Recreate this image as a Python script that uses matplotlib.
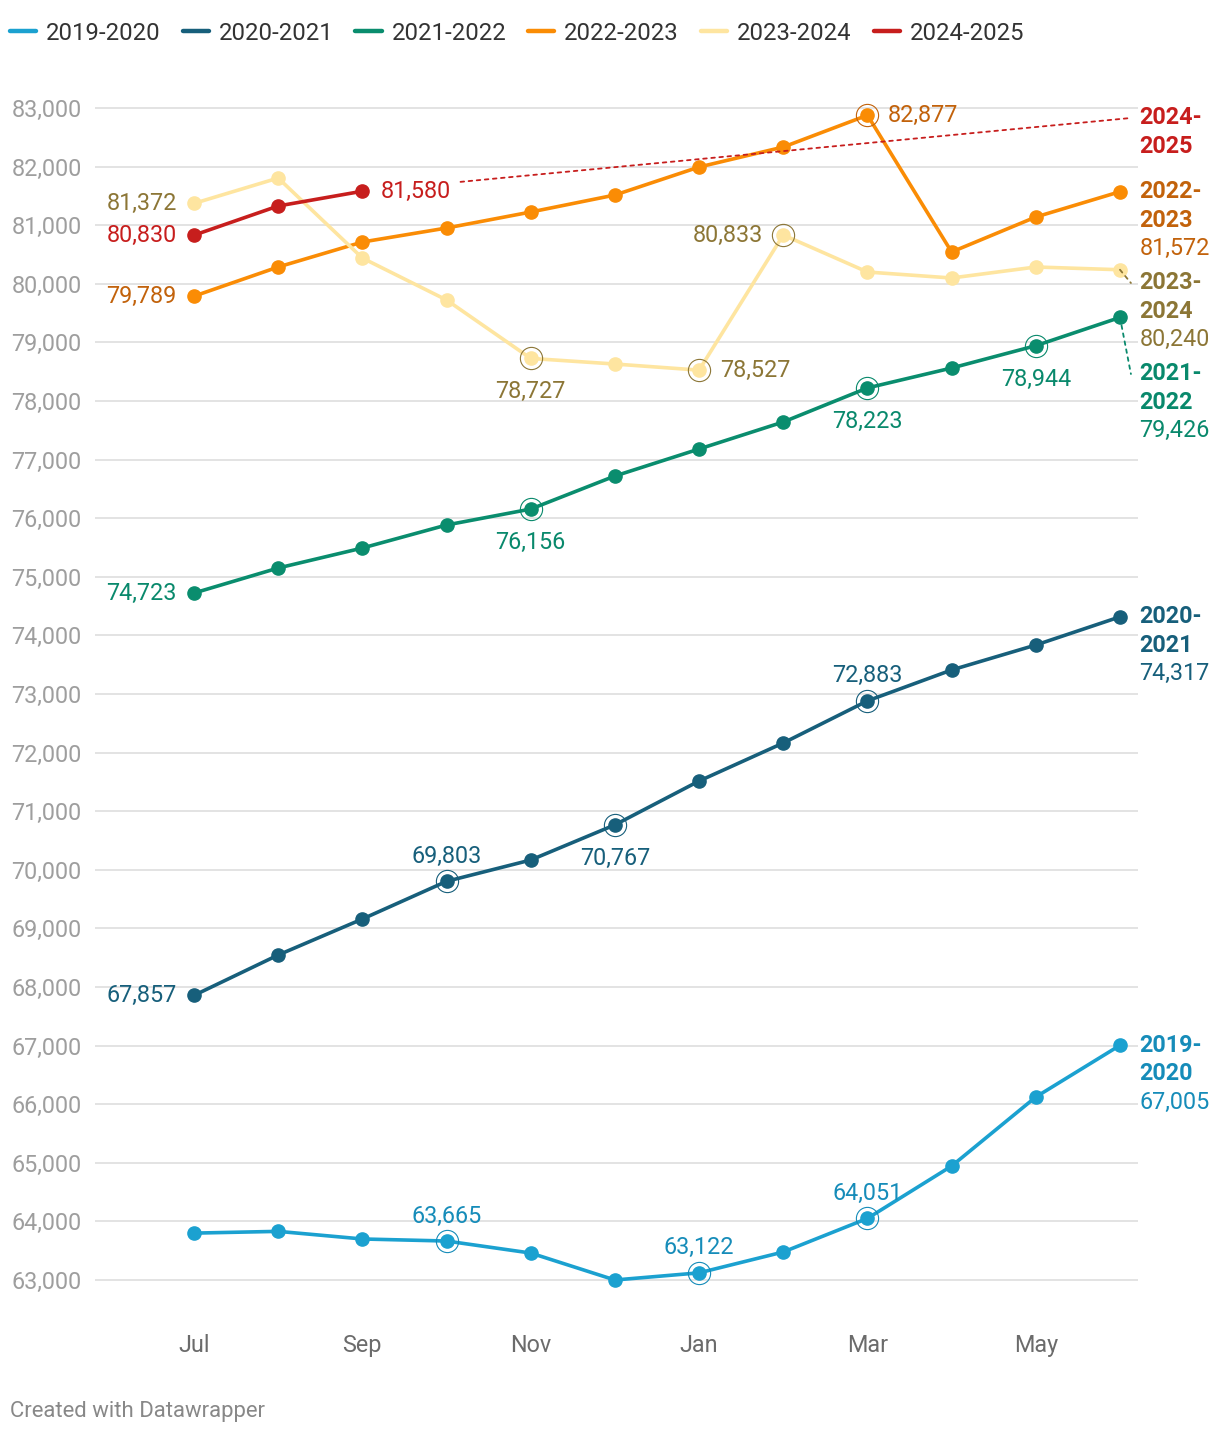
import numpy as np
import matplotlib
matplotlib.use('Agg')
import matplotlib.pyplot as plt
from matplotlib.lines import Line2D
from matplotlib.ticker import FuncFormatter

plt.rcParams['font.family'] = ['Roboto', 'DejaVu Sans']

# ── Data ──────────────────────────────────────────────────────────────────────
months = ['Jul', 'Aug', 'Sep', 'Oct', 'Nov', 'Dec',
          'Jan', 'Feb', 'Mar', 'Apr', 'May', 'Jun']

s_2019_2020 = [63800, 63830, 63700, 63665, 63460, 63000,
               63122, 63478, 64051, 64945, 66123, 67005]
s_2020_2021 = [67857, 68546, 69160, 69803, 70167, 70767,
               71515, 72164, 72883, 73410, 73836, 74317]
s_2021_2022 = [74723, 75150, 75491, 75884, 76156, 76720,
               77181, 77642, 78223, 78563, 78944, 79426]
s_2022_2023 = [79789, 80287, 80713, 80952, 81225, 81515,
               81993, 82334, 82877, 80543, 81140, 81572]
s_2023_2024 = [81372, 81805, 80440, 79724, 78727, 78631,
               78527, 80833, 80201, 80099, 80287, 80240]
s_2024_2025 = [80830, 81328, 81580]

series_names = ['2019-2020', '2020-2021', '2021-2022',
                '2022-2023', '2023-2024', '2024-2025']
series_vals = [s_2019_2020, s_2020_2021, s_2021_2022,
               s_2022_2023, s_2023_2024, s_2024_2025]

line_colors = ['#1ba1d0', '#175f7b', '#0a8d6e', '#fa8c05', '#fee5a0', '#c71e1d']
text_colors = ['#168cb9', '#175f7b', '#09896c', '#c2620b', '#8c7636', '#c71e1d']

# annotated points: (month index, position, ring)
annotations = [
    [(3, 'above', True), (6, 'above', True), (8, 'above', True)],
    [(0, 'left', False), (3, 'above', True), (5, 'below', True), (8, 'above', True)],
    [(0, 'left', False), (4, 'below', True), (8, 'below', True), (10, 'below', True)],
    [(0, 'left', False), (8, 'right', True)],
    [(0, 'left', False), (4, 'below', True), (6, 'right', True), (7, 'left', True)],
    [(0, 'left', False), (2, 'right', False)],
]

# right-hand label anchor (value level), None -> last value
end_label_level = [None, None, 78461, None, 80014, 82830]
end_label_value = [True, True, True, True, True, False]

# ── Figure ────────────────────────────────────────────────────────────────────
fig = plt.figure(figsize=(12.2, 14.34), dpi=100)
ax = fig.add_axes([95 / 1220, 124 / 1434, 1043 / 1220, 1230 / 1434])
ax.set_xlim(-1.176, 11.214)
ax.set_ylim(62488, 83478)

yt = np.arange(63000, 83001, 1000)
ax.set_yticks(yt)
ax.yaxis.set_major_formatter(FuncFormatter(lambda v, p: f'{int(v):,}'))
ax.set_xticks(range(0, 12, 2))
ax.set_xticklabels(months[::2])
ax.tick_params(axis='y', length=0, pad=9.5, labelsize=16.8, labelcolor='#9e9e9e')
ax.tick_params(axis='x', length=0, pad=17, labelsize=16.8, labelcolor='#6b6b6b')
for sp in ax.spines.values():
    sp.set_visible(False)
ax.grid(axis='y', color='#e3e3e3', linewidth=1.4)
ax.set_axisbelow(True)

offsets = {'above': (0, 18, 'center', 'center'),
           'below': (0, -24, 'center', 'center'),
           'left': (-12.5, 0, 'right', 'center'),
           'right': (13, 0, 'left', 'center')}

for k, (name, vals) in enumerate(zip(series_names, series_vals)):
    x = np.arange(len(vals))
    ax.plot(x, vals, color=line_colors[k], linewidth=2.6, marker='o',
            markersize=9.5, zorder=3 + k, solid_joinstyle='round')
    for (i, pos, ring) in annotations[k]:
        dx, dy, ha, va = offsets[pos]
        if ring:
            dx = dx * 1.15
        ax.annotate(f'{vals[i]:,}', xy=(x[i], vals[i]), xytext=(dx, dy),
                    textcoords='offset points', ha=ha, va=va,
                    fontsize=16.8, color=text_colors[k], zorder=20)
        if ring:
            ax.plot(x[i], vals[i], marker='o', markersize=16, markerfacecolor='none',
                    markeredgecolor=text_colors[k], markeredgewidth=0.8, zorder=3 + k)

    # right-hand series label
    level = end_label_level[k] if end_label_level[k] is not None else vals[-1]
    lines = name.split('-')
    lines = [lines[0] + '-', lines[1]]
    trans = ax.get_yaxis_transform()
    for j, t in enumerate(lines):
        ax.annotate(t, xy=(1.0, level), xycoords=trans, xytext=(1, -j * 20.5),
                    textcoords='offset points', ha='left', va='center',
                    fontsize=16.8, fontweight='bold', color=text_colors[k],
                    annotation_clip=False)
    if end_label_value[k]:
        ax.annotate(f'{vals[-1]:,}', xy=(1.0, level), xycoords=trans, xytext=(1, -41),
                    textcoords='offset points', ha='left', va='center',
                    fontsize=16.8, color=text_colors[k], annotation_clip=False)

    # dotted connector from last point (or its value label) to the series label
    if end_label_level[k] is not None:
        shrink = 0 if end_label_value[k] else 71
        ax.annotate('', xy=(11.13, level), xytext=(x[-1], vals[-1]),
                    arrowprops=dict(arrowstyle='-', linestyle=(0, (2, 2.5)),
                                    color=text_colors[k], linewidth=1.3,
                                    shrinkA=shrink, shrinkB=0,
                                    patchA=None, patchB=None),
                    annotation_clip=False, zorder=15)

# legend
handles = [Line2D([0], [0], color=c, linewidth=3.2, solid_capstyle='round')
           for c in line_colors]
fig.legend(handles, series_names, loc='center left', ncol=6, frameon=False,
           bbox_to_anchor=(10 / 1220, 1 - 33 / 1434), fontsize=17.2,
           handlelength=1.09, handletextpad=0.42, columnspacing=0.92,
           borderaxespad=0, borderpad=0, labelcolor='#333333')

fig.text(10 / 1220, 1 - 1411 / 1434, 'Created with Datawrapper', fontsize=15.9,
         color='#888888', ha='left', va='center')

plt.savefig('out.png', dpi=100)
